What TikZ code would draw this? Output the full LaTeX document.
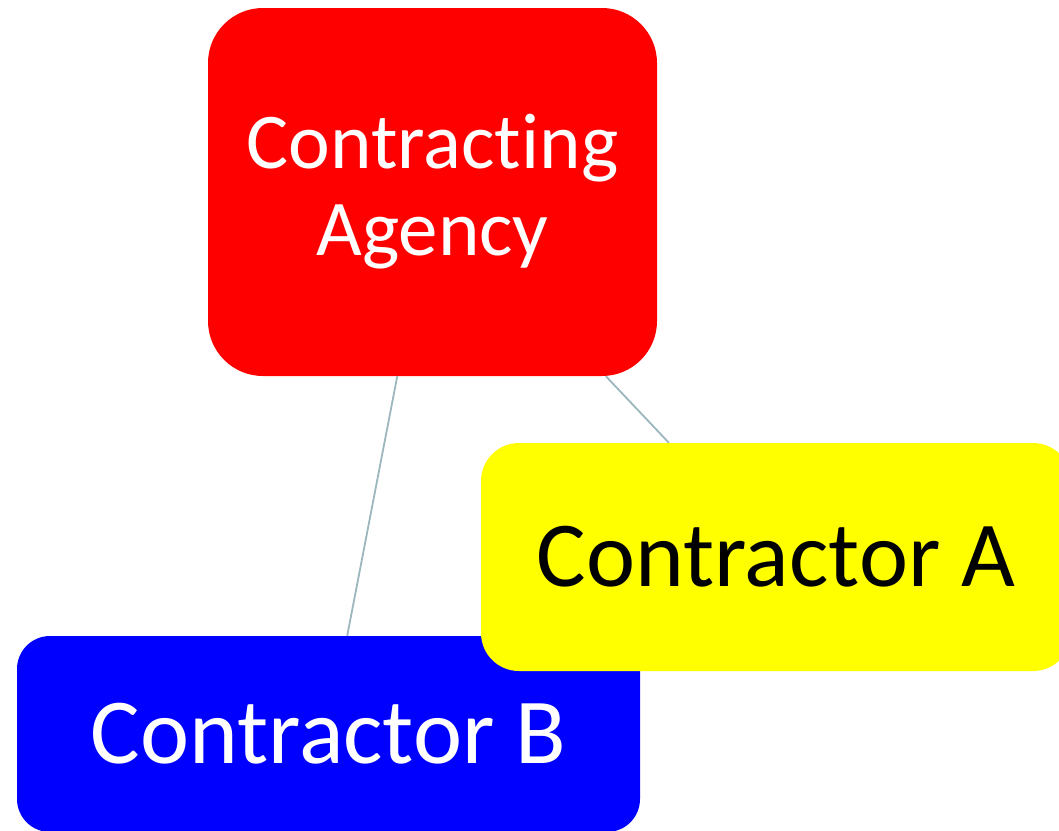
\documentclass[tikz,border=0pt]{standalone}
\usepackage{fontspec}
\setmainfont{Carlito}[Ligatures=NoCommon]
\definecolor{agencyred}{RGB}{255, 0, 0}
\definecolor{contrayellow}{RGB}{255, 255, 0}
\definecolor{contrbblue}{RGB}{0, 0, 255}
\definecolor{linkgrey}{RGB}{155, 183, 189}
\tikzset{
    box/.style={draw=none, inner sep=0pt, align=center},
    link/.style={draw=linkgrey, line width=1.8pt},
}

\begin{document}
\begin{tikzpicture}[x=1pt, y=-1pt]
    \useasboundingbox (0, 0) rectangle (1059, 830);
    \node[box, fill=agencyred, rounded corners=55pt, minimum width=449pt,
        minimum height=368pt, text=white,
        font=\fontsize{79}{87}\selectfont] (agency) at (432.5, 192)
        {Contracting\\Agency};
    \node[box, fill=contrbblue, rounded corners=33pt, minimum width=623pt,
        minimum height=196pt, text=white,
        font=\fontsize{93}{110}\selectfont] (contrb) at (328.5, 734)
        {Contractor B};
    \node[box, fill=contrayellow, rounded corners=38pt, minimum width=590pt,
        minimum height=228pt, text=black,
        font=\fontsize{93}{110}\selectfont] (contra) at (776, 557)
        {Contractor A};
    \draw[link] (agency) -- (contrb);
    \draw[link] (agency) -- (contra);
\end{tikzpicture}
\end{document}
